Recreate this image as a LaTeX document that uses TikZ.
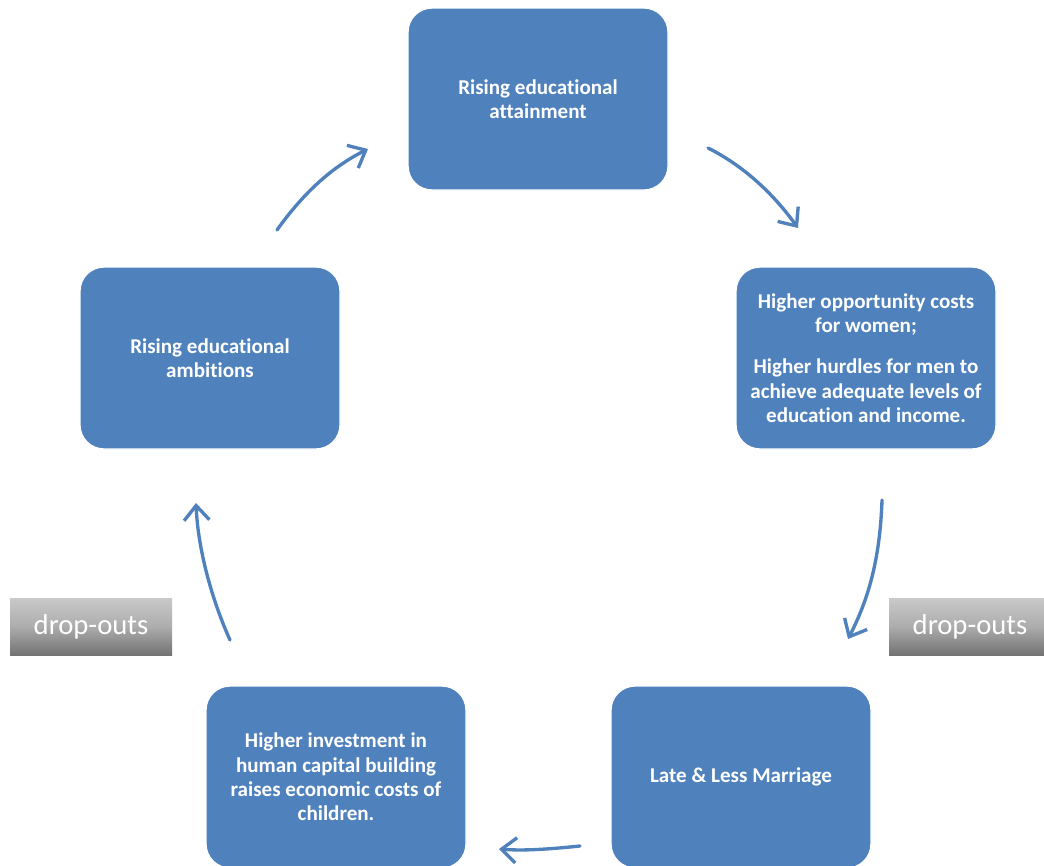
\documentclass[tikz,border=0pt]{standalone}
\usepackage{fontspec}
\setmainfont{Carlito}[Ligatures={NoCommon}]
\usetikzlibrary{arrows.meta}
\definecolor{boxblue}{HTML}{4F81BD}
\definecolor{arrblue}{HTML}{4F81BD}
\tikzset{
  cyclebox/.style={rectangle, rounded corners=18pt, fill=boxblue, draw=white, line width=1pt,
    minimum width=195pt, minimum height=136.5pt, text=white, align=center,
    font=\fontsize{15.8pt}{18.2pt}\selectfont\bfseries, inner sep=0pt},
  dropbox/.style={rectangle, top color=gray!42, bottom color=gray!90!black!100, middle color=gray!65,
    minimum width=121.5pt, minimum height=42.75pt, text=white, inner sep=0pt,
    font=\fontsize{21.5pt}{24pt}\selectfont},
  cyclearrow/.style={draw=arrblue, line width=2.5pt, line cap=round,
    -{Straight Barb[length=11pt,width=19pt,line width=2.5pt]}}
}
\begin{document}
\begin{tikzpicture}[x=0.75pt,y=-0.75pt]
\useasboundingbox[clip] (0,0) rectangle (1044,865);
\fill[white] (0,0) rectangle (1044,865);

\node[cyclebox] (top) at (538,99) {Rising educational\\attainment};
\node[cyclebox] (right) at (866,358) {Higher opportunity costs\\for women;\\[13pt]Higher hurdles for men to\\achieve adequate levels of\\education and income.};
\node[cyclebox] (left) at (210,358) {Rising educational\\ambitions};
\node[cyclebox] (bl) at (336,777) {Higher investment in\\human capital building\\raises economic costs of\\children.};
\node[cyclebox] (br) at (741,777) {Late \& Less Marriage};

\node[dropbox] (dl) at (91,626.5) {drop-outs};
\node[dropbox] (dr) at (970,626.5) {drop-outs};

\coordinate (a1s) at (277,230); \coordinate (a1e) at (368,149);
\coordinate (a2s) at (708,148); \coordinate (a2e) at (798,228);
\coordinate (a3s) at (882,500); \coordinate (a3e) at (848,639);
\coordinate (a4s) at (580,846); \coordinate (a4e) at (499,849);
\coordinate (a5s) at (230,640); \coordinate (a5e) at (196,503);

\draw[cyclearrow] (a1s) .. controls (302,195) and (330,168) .. (a1e);
\draw[cyclearrow] (a2s) .. controls (742,165) and (772,192) .. (a2e);
\draw[cyclearrow] (a3s) .. controls (880,560) and (868,600) .. (a3e);
\draw[cyclearrow] (a4s) .. controls (550,849) and (525,851) .. (a4e);
\draw[cyclearrow] (a5s) .. controls (212,600) and (198,550) .. (a5e);
\end{tikzpicture}
\end{document}
